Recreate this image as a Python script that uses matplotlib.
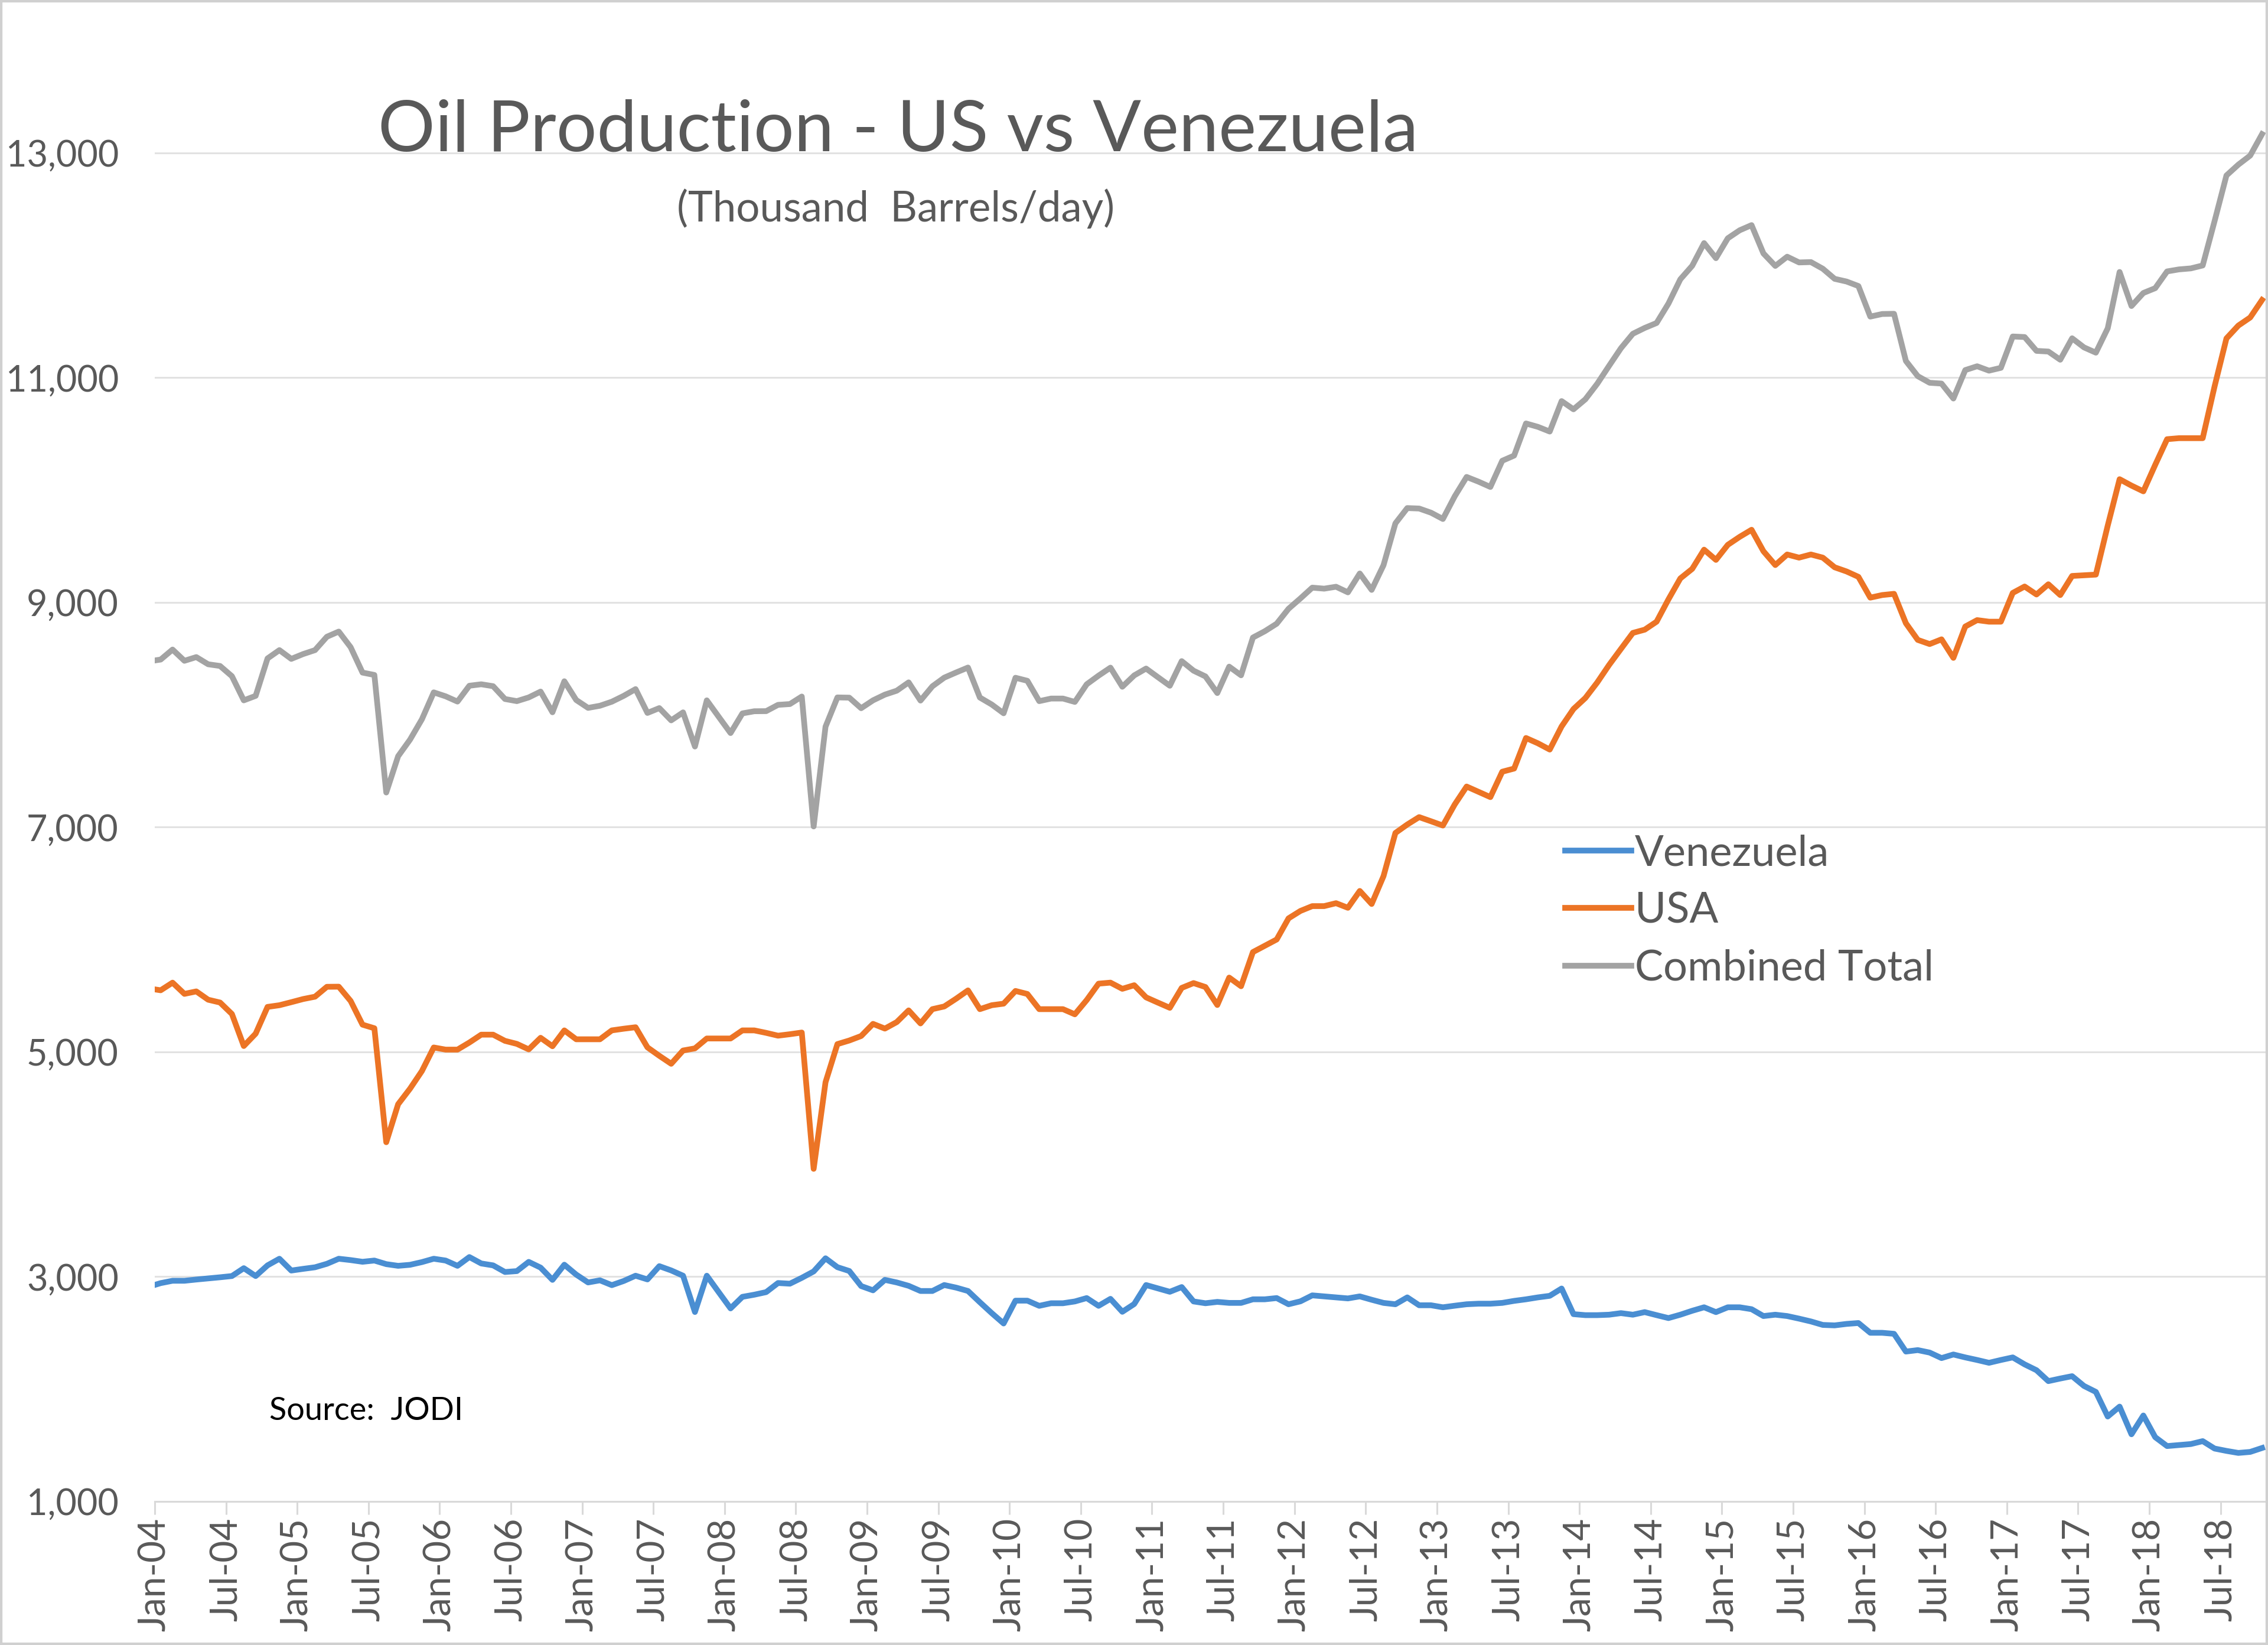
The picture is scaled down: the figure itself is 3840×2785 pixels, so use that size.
import numpy as np
import matplotlib
matplotlib.use("Agg")
import matplotlib.pyplot as plt
from matplotlib.patches import Rectangle
from matplotlib.ticker import FuncFormatter

plt.rcParams['font.family'] = ['Lato', 'DejaVu Sans']

# monthly data, Jan-04 .. Nov-18 (thousand barrels/day)
venezuela = [
    2911, 2943, 2964, 2964, 2975, 2985, 2995, 3006, 3076, 3006,
    3101, 3160, 3055, 3070, 3084, 3115, 3160, 3148, 3133, 3144,
    3112, 3097, 3106, 3130, 3160, 3144, 3097, 3175, 3118, 3101,
    3042, 3050, 3132, 3081, 2972, 3107, 3019, 2949, 2968, 2925,
    2962, 3009, 2976, 3094, 3056, 3009, 2686, 3009, 2863, 2718,
    2821, 2840, 2863, 2944, 2938, 2990, 3047, 3164, 3085, 3051,
    2917, 2879, 2972, 2949, 2919, 2873, 2873, 2926, 2903, 2873,
    2773, 2676, 2584, 2787, 2787, 2741, 2764, 2764, 2780, 2810,
    2741, 2803, 2688, 2757, 2926, 2896, 2866, 2908, 2780, 2764,
    2776, 2767, 2767, 2799, 2799, 2810, 2755, 2781, 2834, 2825,
    2816, 2807, 2825, 2795, 2767, 2755, 2816, 2746, 2746, 2728,
    2742, 2755, 2760, 2760, 2767, 2785, 2799, 2816, 2830, 2895,
    2667, 2658, 2658, 2662, 2676, 2662, 2685, 2658, 2632, 2662,
    2697, 2728, 2685, 2728, 2728, 2711, 2650, 2662, 2650, 2627,
    2602, 2571, 2567, 2580, 2588, 2501, 2501, 2492, 2334, 2347,
    2325, 2276, 2308, 2282, 2259, 2234, 2259, 2282, 2220, 2168,
    2071, 2094, 2115, 2028, 1975, 1756, 1844, 1598, 1765, 1572,
    1493, 1502, 1511, 1537, 1471, 1450, 1432, 1441, 1476,
]

usa = [
    5565, 5549, 5617, 5517, 5539, 5465, 5440, 5338, 5053, 5163,
    5401, 5416, 5443, 5471, 5492, 5580, 5581, 5454, 5243, 5211,
    4197, 4535, 4673, 4830, 5040, 5021, 5021, 5084, 5154, 5154,
    5099, 5072, 5023, 5126, 5051, 5192, 5113, 5113, 5113, 5192,
    5207, 5220, 5041, 4966, 4895, 5013, 5032, 5120, 5120, 5120,
    5192, 5192, 5170, 5145, 5158, 5173, 3960, 4731, 5070, 5102,
    5142, 5250, 5208, 5266, 5370, 5254, 5381, 5405, 5474, 5548,
    5381, 5416, 5430, 5543, 5516, 5381, 5381, 5381, 5335, 5462,
    5608, 5617, 5562, 5594, 5486, 5439, 5393, 5570, 5613, 5578,
    5418, 5662, 5585, 5889, 5945, 6001, 6189, 6255, 6298, 6298,
    6324, 6283, 6433, 6317, 6565, 6949, 7024, 7090, 7053, 7015,
    7203, 7362, 7315, 7268, 7494, 7522, 7794, 7747, 7691, 7897,
    8052, 8150, 8288, 8444, 8587, 8729, 8758, 8829, 9028, 9214,
    9299, 9470, 9379, 9513, 9584, 9647, 9456, 9333, 9427, 9399,
    9427, 9399, 9313, 9276, 9228, 9043, 9066, 9077, 8815, 8667,
    8630, 8672, 8507, 8786, 8843, 8829, 8829, 9085, 9142, 9071,
    9162, 9066, 9236, 9242, 9248, 9684, 10097, 10040, 9989, 10225,
    10453, 10462, 10462, 10462, 10923, 11350, 11464, 11536, 11692,
]

tick_labels = [
    "Jan-04", "Jul-04", "Jan-05", "Jul-05", "Jan-06", "Jul-06",
    "Jan-07", "Jul-07", "Jan-08", "Jul-08", "Jan-09", "Jul-09",
    "Jan-10", "Jul-10", "Jan-11", "Jul-11", "Jan-12", "Jul-12",
    "Jan-13", "Jul-13", "Jan-14", "Jul-14", "Jan-15", "Jul-15",
    "Jan-16", "Jul-16", "Jan-17", "Jul-17", "Jan-18", "Jul-18",
]

ven = np.array(venezuela, dtype=float)
us = np.array(usa, dtype=float)
combined = ven + us
months = np.arange(len(ven)) - 0.5  # points sit half a month before the tick

W, H = 3840, 2785
fig = plt.figure(figsize=(W / 100, H / 100), dpi=100)
ax = fig.add_axes([262 / W, (H - 2542) / H, (3838 - 262) / W, (2542 - 5) / H])

lw = 7
ax.plot(months, ven, color="#4A8ED2", lw=lw, label="Venezuela", solid_joinstyle="round")
ax.plot(months, us, color="#EC7425", lw=lw, label="USA", solid_joinstyle="round")
ax.plot(months, combined, color="#A3A3A3", lw=lw, label="Combined Total", solid_joinstyle="round")

ax.set_xlim(0, 177.9)
ax.set_ylim(1000, 14335)

ax.set_yticks(np.arange(1000, 13001, 2000))
ax.yaxis.set_major_formatter(FuncFormatter(lambda v, p: f"{int(v):,}"))
ax.set_xticks(np.arange(0, 6 * len(tick_labels), 6))
ax.set_xticklabels(tick_labels, rotation=90, ha="center", va="top")

ax.grid(axis="y", color="#E2E2E2", lw=2.2)
ax.set_axisbelow(True)
for s in ["top", "right", "left"]:
    ax.spines[s].set_visible(False)
ax.spines["bottom"].set_color("#D9D9D9")
ax.spines["bottom"].set_linewidth(2.2)

ax.tick_params(axis="y", length=0, pad=44, labelsize=44, labelcolor="#595959")
ax.tick_params(axis="x", length=16, width=2.2, color="#D9D9D9", pad=4,
               labelsize=46, labelcolor="#595959")

fig.text(1521 / W, 1 - 222 / H, "Oil Production - US vs Venezuela",
         ha="center", va="center", fontsize=87, color="#595959")
fig.text(1517 / W, 1 - 353 / H, "(Thousand  Barrels/day)",
         ha="center", va="center", fontsize=51, color="#595959")
fig.text(456 / W, 1 - 2388 / H, "Source:  JODI",
         ha="left", va="center", fontsize=39, color="black")

leg = ax.legend(loc="upper left", bbox_to_anchor=(2650 / W, 1 - 1412 / H),
                bbox_transform=fig.transFigure, frameon=False, fontsize=52,
                handlelength=1.55, handletextpad=0.08, labelspacing=0.45,
                borderpad=0, borderaxespad=0)
for t in leg.get_texts():
    t.set_color("#595959")

fig.patches.append(Rectangle((0, 0), 1, 1, transform=fig.transFigure,
                             fill=False, edgecolor="#D0D0D0", lw=6))

fig.savefig("out.png", dpi=100)
